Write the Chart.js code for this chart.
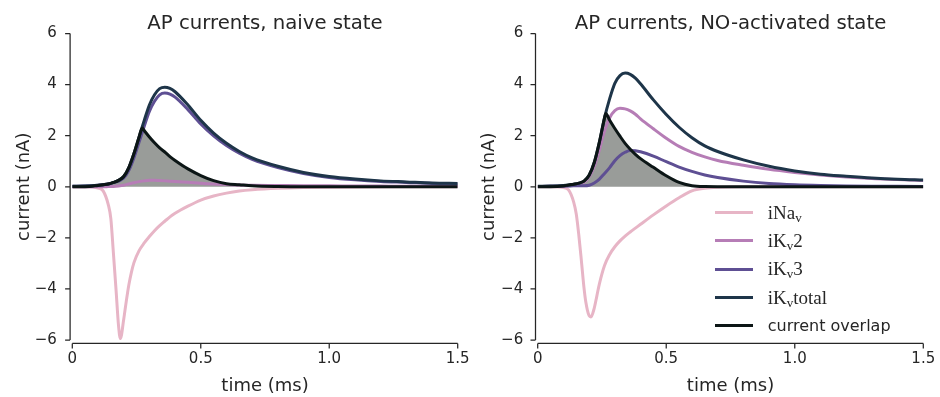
<!DOCTYPE html>
<html>
<head>
<meta charset="utf-8">
<script src="https://cdn.jsdelivr.net/npm/chart.js@4.4.1/dist/chart.umd.min.js"></script>
<style>
  html, body { margin: 0; padding: 0; background: #fff; }
  #wrap { position: relative; width: 940px; height: 397px; overflow: hidden; }
  canvas { position: absolute; top: 0; }
  #naive { left: 0; }
  #activated { left: 470px; }
  .legend { position: absolute; left: 715px; top: 198.5px; color: #262626; }
  .legend .row { display: flex; align-items: center; height: 28.3px; }
  .legend .swatch { width: 38px; height: 3px; margin-right: 14.7px; }
  .legend .math { font-family: 'Liberation Serif', serif; font-size: 19px; }
  .legend .math sub { font-size: 13px; vertical-align: -3px; line-height: 0; }
  .legend .sans { font-family: 'DejaVu Sans', sans-serif; font-size: 16px; }
</style>
</head>
<body>
<div id="wrap">
  <canvas id="naive" width="470" height="397"></canvas>
  <canvas id="activated" width="470" height="397"></canvas>
  <div class="legend">
    <div class="row"><span class="swatch" style="background:#e7b5c6"></span><span class="math">iNa<sub>v</sub></span></div>
    <div class="row"><span class="swatch" style="background:#b67db6"></span><span class="math">iK<sub>v</sub>2</span></div>
    <div class="row"><span class="swatch" style="background:#5e4f93"></span><span class="math">iK<sub>v</sub>3</span></div>
    <div class="row"><span class="swatch" style="background:#1e3549"></span><span class="math">iK<sub>v</sub>total</span></div>
    <div class="row"><span class="swatch" style="background:#0c1616"></span><span class="sans">current overlap</span></div>
  </div>
</div>
<script>
// time grids (ms)
const timeK = [0, 0.05, 0.1, 0.12, 0.14, 0.16, 0.18, 0.2, 0.22, 0.24, 0.26, 0.28, 0.3, 0.32, 0.34, 0.36, 0.38, 0.4, 0.45, 0.5, 0.55, 0.6, 0.65, 0.7, 0.8, 0.9, 1.0, 1.1, 1.2, 1.3, 1.4, 1.5];
const timeNa = [0, 0.05, 0.1, 0.12, 0.14, 0.15, 0.16, 0.17, 0.18, 0.187, 0.2, 0.207, 0.22, 0.23, 0.24, 0.26, 0.28, 0.3, 0.32, 0.34, 0.36, 0.38, 0.4, 0.45, 0.5, 0.55, 0.6, 0.65, 0.7, 0.8, 0.9, 1.0, 1.25, 1.5];

// naive state (nA)
const naiveNa = [0, 0, -0.05, -0.16, -0.7, -1.25, -2.6, -4.0, -5.45, -5.95, -5.2, -4.7, -3.85, -3.35, -2.97, -2.5, -2.2, -1.95, -1.72, -1.52, -1.35, -1.18, -1.04, -0.76, -0.52, -0.36, -0.25, -0.17, -0.12, -0.06, -0.03, -0.015, 0, 0];
const naiveKv2 = [0, 0, 0, 0, 0.005, 0.01, 0.03, 0.06, 0.11, 0.16, 0.2, 0.23, 0.25, 0.25, 0.24, 0.23, 0.22, 0.21, 0.18, 0.14, 0.11, 0.09, 0.07, 0.06, 0.05, 0.04, 0.035, 0.03, 0.025, 0.02, 0.02, 0.02];
const naiveKv3 = [0.02, 0.03, 0.06, 0.08, 0.105, 0.16, 0.22, 0.34, 0.64, 1.14, 1.75, 2.37, 2.95, 3.35, 3.6, 3.67, 3.63, 3.51, 3.02, 2.46, 1.99, 1.61, 1.31, 1.07, 0.75, 0.52, 0.365, 0.27, 0.205, 0.17, 0.13, 0.11];
const naiveKvTotal = [0.02, 0.03, 0.06, 0.08, 0.11, 0.17, 0.25, 0.4, 0.75, 1.3, 1.95, 2.6, 3.2, 3.6, 3.84, 3.9, 3.85, 3.72, 3.2, 2.6, 2.1, 1.7, 1.38, 1.13, 0.8, 0.56, 0.4, 0.3, 0.23, 0.19, 0.15, 0.13];
const naiveOverlapTime = [0, 0.05, 0.1, 0.12, 0.14, 0.16, 0.18, 0.2, 0.22, 0.24, 0.26, 0.272, 0.28, 0.3, 0.32, 0.34, 0.36, 0.38, 0.4, 0.45, 0.5, 0.55, 0.6, 0.65, 0.7, 0.8, 0.9, 1.5];
const naiveOverlap = [0, 0, 0.05, 0.08, 0.11, 0.17, 0.25, 0.4, 0.75, 1.3, 1.95, 2.3, 2.2, 1.95, 1.72, 1.52, 1.36, 1.18, 1.03, 0.7, 0.44, 0.24, 0.12, 0.08, 0.04, 0.01, 0, 0];

// NO-activated state (nA)
const activatedNa = [0, 0, -0.03, -0.12, -0.6, -1.07, -1.9, -2.9, -3.95, -4.5, -5.05, -5.1, -4.75, -4.28, -3.8, -3.08, -2.65, -2.35, -2.12, -1.93, -1.77, -1.62, -1.47, -1.1, -0.75, -0.43, -0.16, -0.06, -0.02, 0, 0, 0, 0, 0];
const activatedKv2 = [0.01, 0.015, 0.03, 0.04, 0.06, 0.1, 0.18, 0.38, 0.8, 1.45, 2.18, 2.7, 2.98, 3.07, 3.05, 2.97, 2.84, 2.66, 2.27, 1.9, 1.58, 1.35, 1.17, 1.03, 0.84, 0.68, 0.56, 0.46, 0.38, 0.32, 0.28, 0.24];
const activatedKv3 = [0.01, 0.015, 0.02, 0.03, 0.04, 0.04, 0.04, 0.06, 0.15, 0.3, 0.52, 0.75, 1.02, 1.22, 1.35, 1.42, 1.41, 1.37, 1.2, 0.98, 0.77, 0.6, 0.46, 0.36, 0.22, 0.13, 0.08, 0.05, 0.03, 0.02, 0.015, 0.01];
const activatedKvTotal = [0.02, 0.03, 0.05, 0.07, 0.1, 0.14, 0.22, 0.45, 0.95, 1.75, 2.7, 3.45, 4.05, 4.35, 4.45, 4.4, 4.25, 4.03, 3.4, 2.83, 2.33, 1.92, 1.6, 1.38, 1.05, 0.8, 0.62, 0.49, 0.41, 0.34, 0.29, 0.26];
const activatedOverlapTime = [0, 0.05, 0.1, 0.12, 0.14, 0.16, 0.18, 0.2, 0.22, 0.24, 0.26, 0.265, 0.28, 0.3, 0.32, 0.34, 0.36, 0.38, 0.4, 0.45, 0.5, 0.55, 0.6, 0.65, 0.7, 1.5];
const activatedOverlap = [0, 0, 0.03, 0.07, 0.1, 0.14, 0.22, 0.45, 0.95, 1.75, 2.7, 2.87, 2.6, 2.28, 1.98, 1.7, 1.47, 1.27, 1.1, 0.76, 0.43, 0.17, 0.04, 0.005, 0, 0];

const xTicks = [0, 0.5, 1.0, 1.5];
const xTickLabels = ['0', '0.5', '1.0', '1.5'];
const yTicks = [-6, -4, -2, 0, 2, 4, 6];
const yTickLabels = ['\u22126', '\u22124', '\u22122', '0', '2', '4', '6'];

const ink = '#262626';
const sans = "'DejaVu Sans', sans-serif";
const colors = {
  na: '#e7b5c6',
  kv2: '#b67db6',
  kv3: '#5e4f93',
  total: '#1e3549',
  overlap: '#0c1616',
  fill: '#999c99'
};

Chart.defaults.font.family = sans;

const pts = (t, v) => t.map((x, i) => ({ x: x, y: v[i] }));

const line = (label, t, v, color, filled) => ({
  label: label,
  data: pts(t, v),
  borderColor: color,
  borderWidth: 3,
  pointRadius: 0,
  cubicInterpolationMode: 'monotone',
  borderJoinStyle: 'round',
  fill: filled ? 'origin' : false,
  backgroundColor: filled ? colors.fill : 'transparent'
});

// seaborn-style offset, trimmed spines
const spines = {
  id: 'spines',
  afterDraw(chart) {
    const { ctx, chartArea, scales: { x, y } } = chart;
    const sx = chartArea.left - 2.2;
    const sy = chartArea.bottom + 3.4;
    ctx.save();
    ctx.strokeStyle = ink;
    ctx.lineWidth = 1.25;
    ctx.beginPath();
    ctx.moveTo(sx, y.getPixelForValue(6));
    ctx.lineTo(sx, y.getPixelForValue(-6));
    yTicks.forEach(v => {
      const py = y.getPixelForValue(v);
      ctx.moveTo(sx - 5, py);
      ctx.lineTo(sx, py);
    });
    ctx.moveTo(x.getPixelForValue(0), sy);
    ctx.lineTo(x.getPixelForValue(1.5), sy);
    xTicks.forEach(v => {
      const px = x.getPixelForValue(v);
      ctx.moveTo(px, sy);
      ctx.lineTo(px, sy + 5);
    });
    ctx.stroke();
    ctx.restore();
  }
};

function drawPanel(id, title, s, geo) {
  const ctx = document.getElementById(id).getContext('2d');
  return new Chart(ctx, {
    type: 'line',
    data: {
      datasets: [
        line('current overlap', s.overlapTime, s.overlap, colors.overlap, true),
        line('iKv total', timeK, s.total, colors.total),
        line('iKv3', timeK, s.kv3, colors.kv3),
        line('iKv2', timeK, s.kv2, colors.kv2),
        line('iNav', timeNa, s.na, colors.na)
      ]
    },
    options: {
      responsive: false,
      animation: false,
      layout: { padding: { left: 0, right: geo.right, top: 0, bottom: 0 } },
      plugins: {
        legend: { display: false },
        tooltip: { enabled: false },
        filler: { drawTime: 'beforeDatasetsDraw' },
        title: {
          display: true,
          text: title,
          fullSize: false,
          color: ink,
          font: { size: 19.7, weight: 'normal', lineHeight: 1 },
          padding: { top: 13.6, bottom: 0.2 }
        }
      },
      scales: {
        x: {
          type: 'linear',
          min: 0,
          max: 1.5,
          border: { display: false },
          // hidden grid; tickLength only sets the label gap (spines are drawn by the plugin)
          grid: { display: false, drawTicks: true, tickLength: 10 },
          afterBuildTicks: sc => { sc.ticks = xTicks.map(v => ({ value: v })); },
          afterFit: sc => { sc.height = 57; },
          ticks: {
            autoSkip: false,
            maxRotation: 0,
            padding: 0,
            color: ink,
            font: { size: 15 },
            callback: (v, i) => xTickLabels[i]
          },
          title: {
            display: true,
            text: 'time (ms)',
            color: ink,
            font: { size: 18, lineHeight: 1 },
            padding: { top: 0, bottom: 2 }
          }
        },
        y: {
          type: 'linear',
          min: -6,
          max: 6,
          border: { display: false },
          grid: { display: false, drawTicks: true, tickLength: geo.tickPad },
          afterBuildTicks: sc => { sc.ticks = yTicks.map(v => ({ value: v })); },
          afterFit: sc => { sc.width = geo.left; },
          ticks: {
            autoSkip: false,
            padding: 0,
            color: ink,
            font: { size: 15 },
            callback: (v, i) => yTickLabels[i]
          },
          title: {
            display: true,
            text: 'current (nA)',
            color: ink,
            font: { size: 18 },
            padding: { top: geo.titlePad, bottom: geo.titlePad }
          }
        }
      }
    },
    plugins: [spines]
  });
}

drawPanel('naive', 'AP currents, naive state', {
  na: naiveNa, kv2: naiveKv2, kv3: naiveKv3, total: naiveKvTotal,
  overlapTime: naiveOverlapTime, overlap: naiveOverlap
}, { left: 72.3, right: 12.3, tickPad: 15.5, titlePad: 13.2 });

drawPanel('activated', 'AP currents, NO-activated state', {
  na: activatedNa, kv2: activatedKv2, kv3: activatedKv3, total: activatedKvTotal,
  overlapTime: activatedOverlapTime, overlap: activatedOverlap
}, { left: 67.7, right: 16.7, tickPad: 14.5, titlePad: 8.2 });
</script>
</body>
</html>
